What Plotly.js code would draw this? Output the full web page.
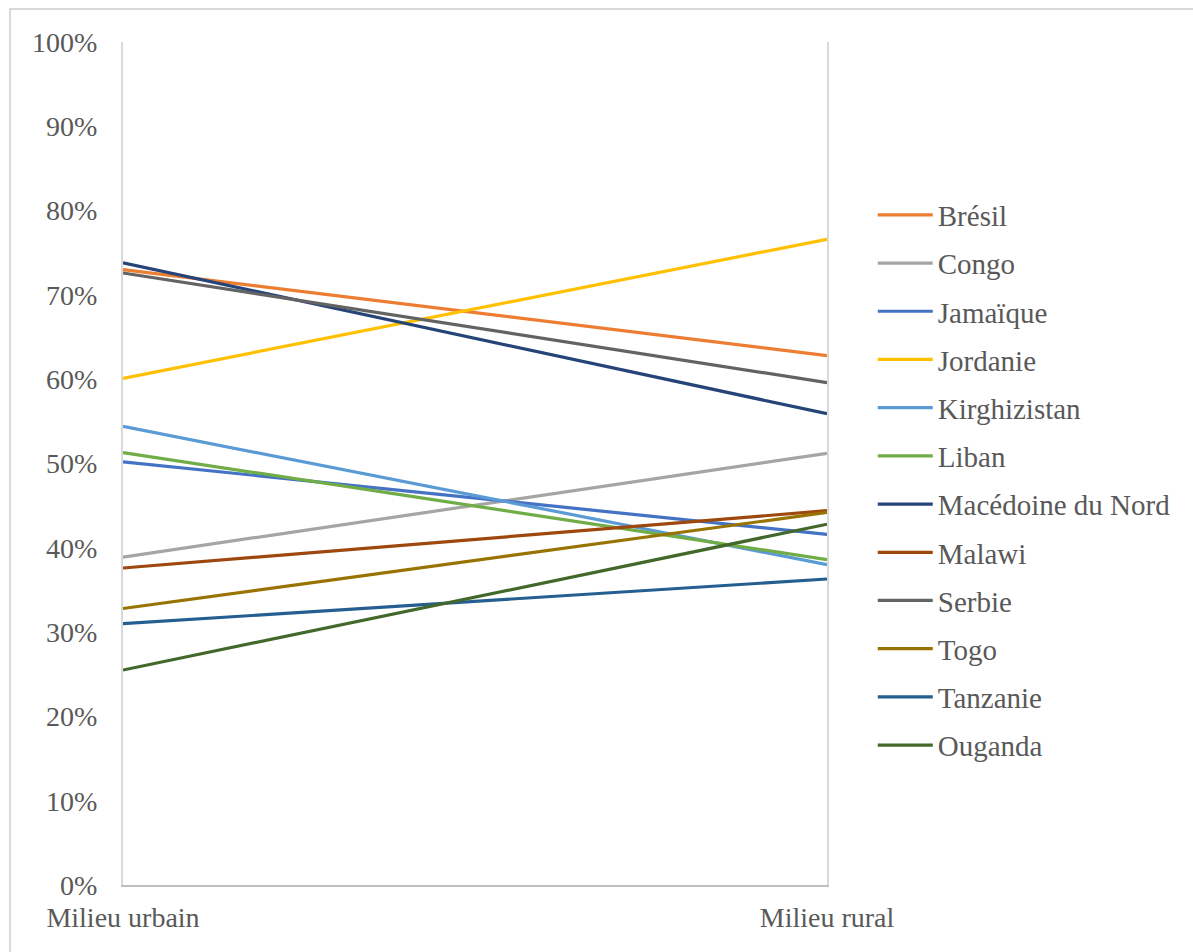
<!DOCTYPE html>
<html>
<head>
<meta charset="utf-8">
<script src="https://cdn.plot.ly/plotly-3.0.1.min.js"></script>
<style>
html,body{margin:0;padding:0;background:#fff;}
#wrap{position:relative;width:1193px;height:952px;overflow:hidden;}
#chart{position:absolute;left:0;top:0;width:1193px;height:952px;}
#frame{position:absolute;left:9px;top:8px;width:1200px;height:1000px;border:2px solid #d9d9d9;pointer-events:none;box-sizing:border-box;}
</style>
</head>
<body>
<div id="wrap"><div id="chart"></div><div id="frame"></div></div>
<script>
const categories = ["Milieu urbain", "Milieu rural"];
const countries = ["Brésil","Congo","Jamaïque","Jordanie","Kirghizistan","Liban","Macédoine du Nord","Malawi","Serbie","Togo","Tanzanie","Ouganda"];
const urbain = [0.730, 0.389, 0.502, 0.601, 0.544, 0.513, 0.738, 0.376, 0.726, 0.328, 0.310, 0.255];
const rural  = [0.628, 0.512, 0.416, 0.766, 0.380, 0.386, 0.559, 0.444, 0.596, 0.442, 0.363, 0.428];
const colors = ["#ED7D31","#A5A5A5","#4472C4","#FFC000","#5B9BD5","#70AD47","#264478","#9E480E","#636363","#997300","#255E91","#43682B"];
const yTickVals = [0,0.1,0.2,0.3,0.4,0.5,0.6,0.7,0.8,0.9,1.0];

const font = {family: "'Times New Roman', 'Liberation Serif', 'DejaVu Serif', serif", size: 28, color: "#595959"};
const legendFont = Object.assign({}, font, {size: 29});

const traces = countries.map((c, i) => ({
  type: "scatter", mode: "lines", name: c,
  x: categories, y: [urbain[i], rural[i]],
  line: {color: colors[i], width: 3.2},
  legendgroup: "g" + i,
  hoverinfo: "name+y"
}));

const layout = {
  width: 1193, height: 952,
  margin: {l: 123, r: 366, t: 42, b: 67},
  paper_bgcolor: "#ffffff", plot_bgcolor: "#ffffff",
  font: font,
  showlegend: true,
  legend: {
    x: 1.065, xanchor: "left", y: 0.825, yanchor: "top",
    font: legendFont, traceorder: "grouped", tracegroupgap: 7.5,
    bgcolor: "rgba(0,0,0,0)", itemwidth: 55
  },
  xaxis: {
    type: "category", range: [0, 1],
    showgrid: true, gridcolor: "#d9d9d9", gridwidth: 2,
    showline: true, linecolor: "#bfbfbf", linewidth: 2,
    ticks: "outside", ticklen: 6, tickcolor: "rgba(0,0,0,0)",
    tickfont: font, zeroline: false, fixedrange: true
  },
  yaxis: {
    range: [0, 1], tickvals: yTickVals, tickformat: ".0%",
    showgrid: false, zeroline: false,
    showline: true, linecolor: "#d9d9d9", linewidth: 2, mirror: true,
    ticks: "outside", ticklen: 18, tickcolor: "rgba(0,0,0,0)",
    tickfont: font, fixedrange: true
  }
};

Plotly.newPlot("chart", traces, layout, {displayModeBar: false, staticPlot: true});
</script>
</body>
</html>
